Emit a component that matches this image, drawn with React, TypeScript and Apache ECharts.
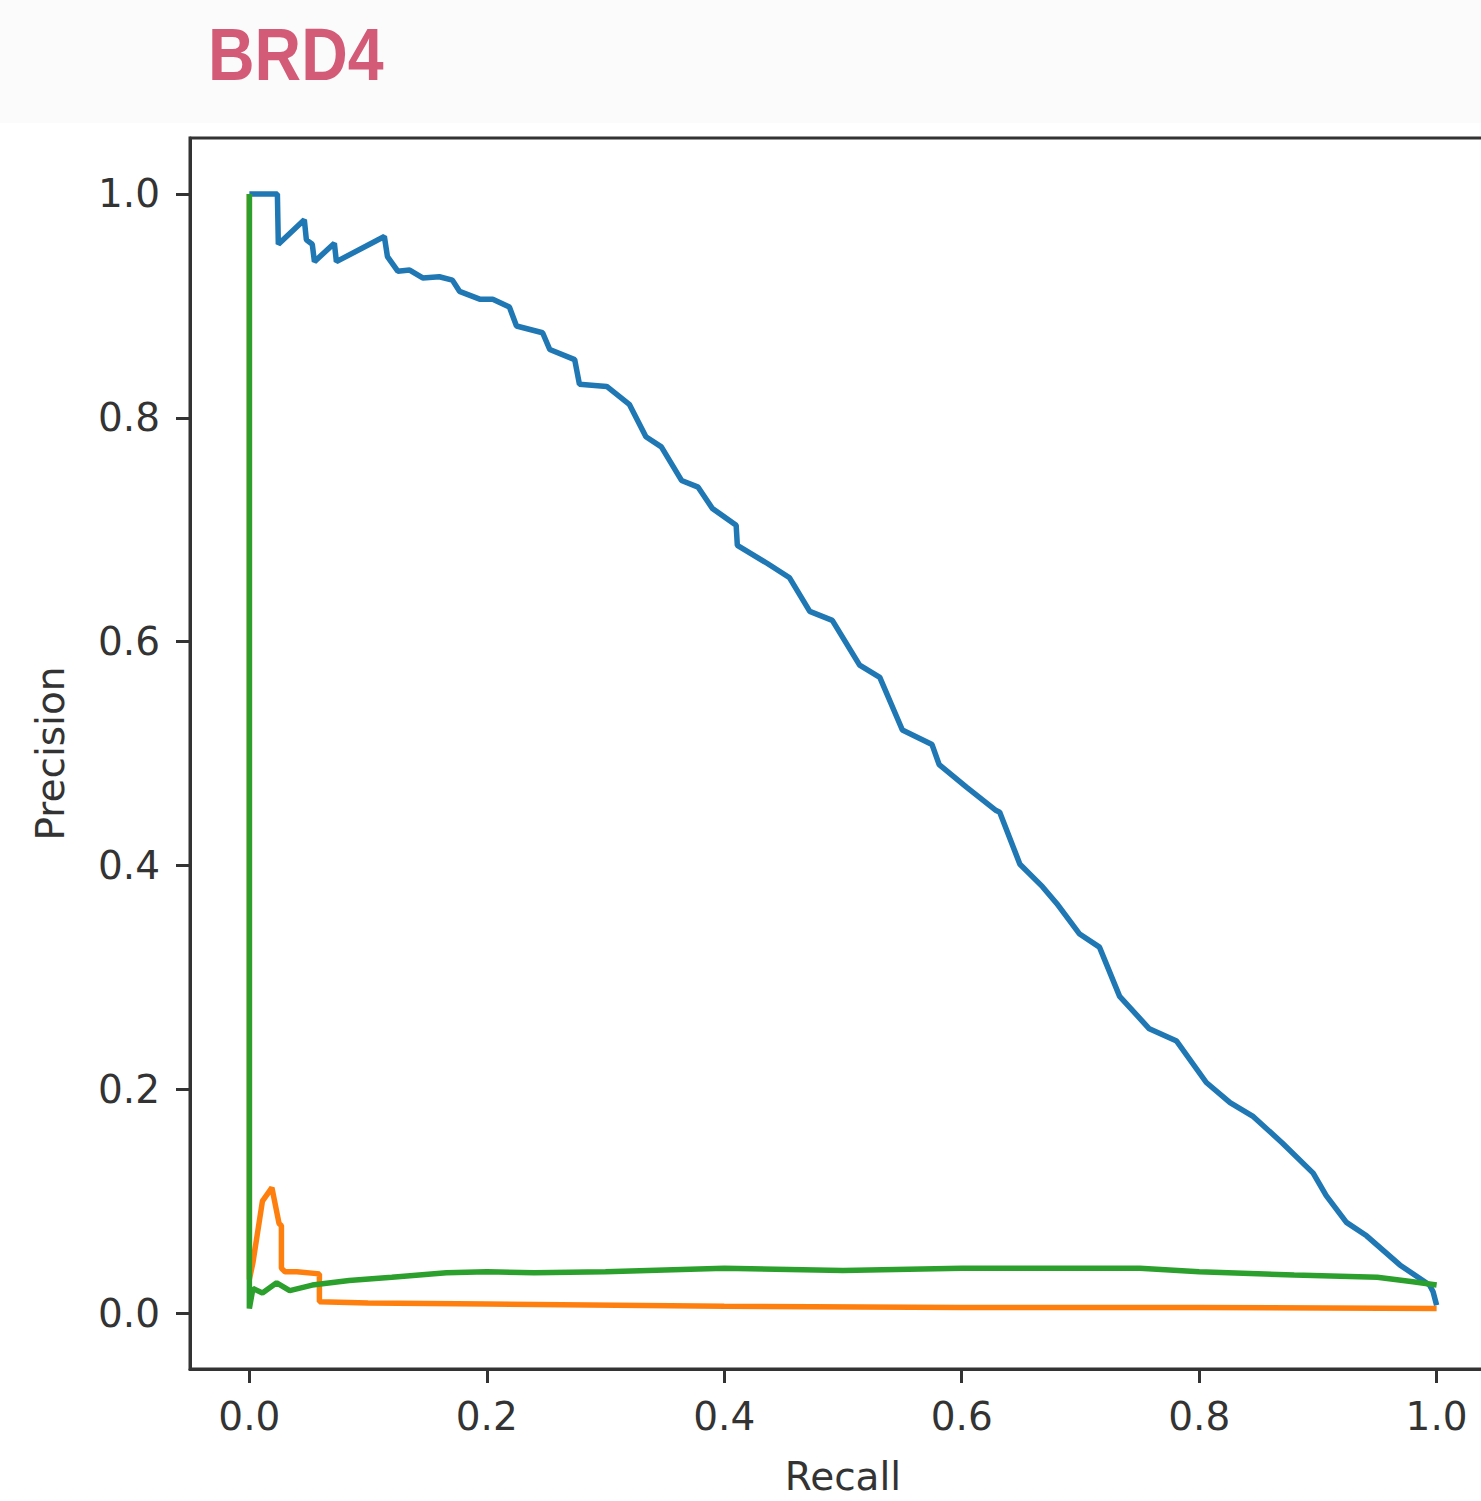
import React, { useEffect, useRef } from "react";
import * as echarts from "echarts";

const titleText = "BRD4";
const xAxisName = "Recall";
const yAxisName = "Precision";
const tickValues = [0, 0.2, 0.4, 0.6, 0.8, 1.0];

const blueRecall = [0, 0.0236, 0.0244, 0.0463, 0.048, 0.053, 0.0548, 0.0716, 0.0733, 0.1137, 0.1163, 0.125, 0.135, 0.146, 0.16, 0.171, 0.177, 0.194, 0.205, 0.219, 0.225, 0.247, 0.253, 0.274, 0.278, 0.301, 0.32, 0.334, 0.347, 0.364, 0.378, 0.39, 0.41, 0.411, 0.436, 0.455, 0.472, 0.491, 0.514, 0.531, 0.55, 0.575, 0.581, 0.604, 0.629, 0.632, 0.649, 0.668, 0.68, 0.699, 0.716, 0.733, 0.758, 0.781, 0.806, 0.826, 0.845, 0.87, 0.896, 0.907, 0.924, 0.941, 0.969, 0.994, 0.997, 1.0];
const bluePrecision = [1.0, 1.0, 0.955, 0.977, 0.959, 0.955, 0.9395, 0.956, 0.9395, 0.962, 0.944, 0.931, 0.932, 0.925, 0.926, 0.923, 0.913, 0.906, 0.906, 0.899, 0.882, 0.876, 0.861, 0.852, 0.83, 0.828, 0.812, 0.783, 0.774, 0.744, 0.738, 0.719, 0.704, 0.686, 0.67, 0.657, 0.627, 0.619, 0.579, 0.568, 0.521, 0.508, 0.49, 0.47, 0.449, 0.4475, 0.401, 0.381, 0.366, 0.339, 0.327, 0.283, 0.254, 0.243, 0.206, 0.188, 0.176, 0.152, 0.125, 0.105, 0.081, 0.069, 0.043, 0.025, 0.019, 0.007];

const orangeRecall = [0, 0, 0.003, 0.011, 0.019, 0.025, 0.027, 0.027, 0.03, 0.04, 0.059, 0.059, 0.1, 0.2, 0.4, 0.6, 0.8, 1.0];
const orangePrecision = [1.0, 0.03, 0.045, 0.1, 0.112, 0.08, 0.078, 0.04, 0.037, 0.037, 0.035, 0.01, 0.009, 0.008, 0.006, 0.005, 0.005, 0.004];

const greenRecall = [0, 0, 0.003, 0.011, 0.023, 0.034, 0.053, 0.084, 0.12, 0.166, 0.2, 0.24, 0.3, 0.4, 0.5, 0.6, 0.7, 0.75, 0.8, 0.88, 0.95, 0.98, 1.0];
const greenPrecision = [1.0, 0.004, 0.022, 0.018, 0.027, 0.02, 0.025, 0.029, 0.032, 0.036, 0.037, 0.036, 0.037, 0.04, 0.038, 0.04, 0.04, 0.04, 0.037, 0.034, 0.032, 0.028, 0.025];

const zip = (a: number[], b: number[]) => a.map((v, i) => [v, b[i]]);

export default function App() {
  const ref = useRef<HTMLDivElement>(null);
  useEffect(() => {
    if (!ref.current) return;
    const chart = echarts.init(ref.current, null, { renderer: "svg" });
    const axisText = { color: "#333", fontSize: 39, fontFamily: "DejaVu Sans" };
    chart.setOption({
      animation: false,
      backgroundColor: "#ffffff",
      graphic: [
        {
          type: "rect",
          z: -10,
          shape: { x: 0, y: 0, width: 1540, height: 123 },
          style: { fill: "#fbfbfb" },
        },
        {
          type: "text",
          x: 208,
          y: 54,
          scaleX: 0.86,
          style: {
            text: titleText,
            x: 0,
            y: 0,
            fill: "#d45b77",
            font: "bold 75px 'Liberation Sans', Arial, sans-serif",
            verticalAlign: "middle",
            align: "left",
          },
        },
      ],
      grid: {
        left: 190,
        top: 138,
        width: 1306,
        height: 1234,
        show: true,
        borderColor: "#333",
        borderWidth: 3,
        backgroundColor: "#ffffff",
      },
      xAxis: {
        type: "value",
        min: -0.05,
        max: 1.05,
        name: xAxisName,
        nameLocation: "middle",
        nameGap: 88,
        nameTextStyle: { ...axisText },
        axisLine: { show: true, onZero: false, lineStyle: { color: "#333", width: 3 } },
        axisTick: { show: true, inside: false, length: 14, lineStyle: { color: "#333", width: 3 }, customValues: tickValues },
        axisLabel: { ...axisText, margin: 28, customValues: tickValues, formatter: (v: number) => v.toFixed(1) },
        splitLine: { show: false },
      },
      yAxis: {
        type: "value",
        min: -0.05,
        max: 1.05,
        name: yAxisName,
        nameLocation: "middle",
        nameGap: 120,
        nameTextStyle: { ...axisText },
        axisLine: { show: true, onZero: false, lineStyle: { color: "#333", width: 3 } },
        axisTick: { show: true, inside: false, length: 14, lineStyle: { color: "#333", width: 3 }, customValues: tickValues },
        axisLabel: { ...axisText, margin: 30, customValues: tickValues, formatter: (v: number) => v.toFixed(1) },
        splitLine: { show: false },
      },
      series: [
        {
          type: "line",
          data: zip(blueRecall, bluePrecision),
          showSymbol: false,
          lineStyle: { color: "#1f77b4", width: 5.5 },
          itemStyle: { color: "#1f77b4" },
        },
        {
          type: "line",
          data: zip(orangeRecall, orangePrecision),
          showSymbol: false,
          lineStyle: { color: "#ff7f0e", width: 5.5 },
          itemStyle: { color: "#ff7f0e" },
        },
        {
          type: "line",
          data: zip(greenRecall, greenPrecision),
          showSymbol: false,
          lineStyle: { color: "#2ca02c", width: 5.5 },
          itemStyle: { color: "#2ca02c" },
        },
      ],
    });
    return () => chart.dispose();
  }, []);
  return (
    <div style={{ position: "absolute", left: 0, top: 0, width: 1481, height: 1501, overflow: "hidden" }}>
      <div ref={ref} style={{ width: 1540, height: 1501 }} />
    </div>
  );
}
